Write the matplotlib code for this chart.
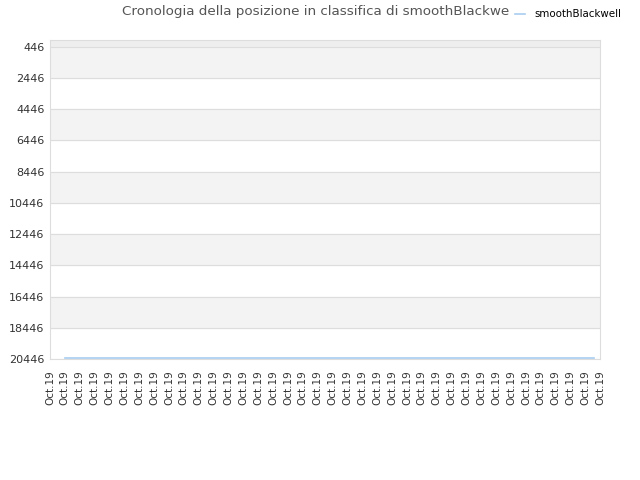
import matplotlib
matplotlib.use("Agg")
import matplotlib.pyplot as plt
import numpy as np

# data
player = "smoothBlackwell"
title = "Cronologia della posizione in classifica di smoothBlackwe"
tick_labels = ["Oct.19"] * 38
positions = [20400] * 37  # rank, one per day starting at the 2nd tick
y_ticks = [446, 2446, 4446, 6446, 8446, 10446, 12446, 14446, 16446, 18446, 20446]

fig = plt.figure(figsize=(6.4, 4.8), dpi=100)
ax = fig.add_axes([0.078, 0.252, 0.86, 0.665])

x = np.arange(1, len(positions) + 1)
ax.plot(x, positions, color="#a8cdf0", linewidth=1.2, label=player, zorder=3)

ax.set_xlim(0, len(tick_labels) - 0.6)
ax.set_ylim(20446, 0)

# alternating bands
ax.axhspan(0, 446, color="#eeeeee", zorder=0)
for i in range(len(y_ticks) - 1):
    if i % 2 == 0:
        ax.axhspan(y_ticks[i], y_ticks[i + 1], color="#f3f3f3", zorder=0)

ax.set_yticks(y_ticks)
ax.set_yticklabels([str(v) for v in y_ticks], fontsize=8, color="#333333")
ax.set_xticks(np.arange(len(tick_labels)) * (len(tick_labels) - 0.6) / (len(tick_labels) - 1))
ax.set_xticklabels(tick_labels, rotation=90, fontsize=7.5, color="#333333")
ax.tick_params(axis="y", length=0, pad=4)
ax.tick_params(axis="x", length=0, pad=8)
ax.grid(axis="y", color="#dddddd", linewidth=0.8, zorder=1)
for s in ax.spines.values():
    s.set_color("#dddddd")

fig.text(0.19, 0.975, title, fontsize=9.7, color="#555555", va="center", ha="left")
fig.legend(loc="upper right", bbox_to_anchor=(0.985, 1.0), frameon=False,
           fontsize=7.4, handlelength=1.0, handletextpad=0.9)

fig.savefig("out.png", dpi=100)
